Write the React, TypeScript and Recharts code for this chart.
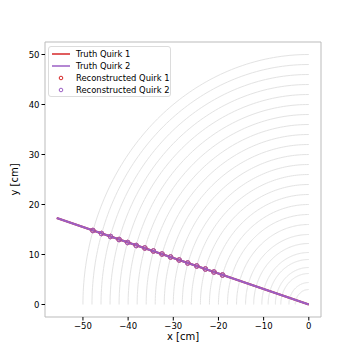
import React from "react";
import { ComposedChart, Scatter, XAxis, YAxis } from "recharts";

// detector layer radii [cm]
const layerRadii = [
  50, 48, 46, 44, 42, 40, 38, 36, 34, 32, 30, 28, 26, 24, 22, 20, 18, 16, 14,
  12.2, 10.4, 9, 7.4, 6.2, 4.4, 3,
];

// truth tracks (start/end points)
const truthQuirk1 = [
  { x: 0, y: 0 },
  { x: -55.8, y: 17.3 },
];
const truthQuirk2 = [
  { x: 0, y: 0 },
  { x: -55.8, y: 17.3 },
];

// reconstructed hits
const recoX = [
  -47.8, -45.9, -43.9, -42.0, -40.1, -38.2, -36.3, -34.4, -32.5, -30.6, -28.7,
  -26.8, -24.8, -22.9, -21.0, -19.1,
];
const recoY1 = [
  14.8, 14.2, 13.6, 13.0, 12.4, 11.8, 11.3, 10.7, 10.1, 9.5, 8.9, 8.3, 7.7,
  7.1, 6.5, 5.9,
];
const recoY2 = [
  14.8, 14.2, 13.6, 13.0, 12.4, 11.8, 11.3, 10.7, 10.1, 9.5, 8.9, 8.3, 7.7,
  7.1, 6.5, 5.9,
];

const xTicks = [-50, -40, -30, -20, -10, 0];
const yTicks = [0, 10, 20, 30, 40, 50];

const RED = "#d62728";
const PURPLE = "#9b5fc4";
const FONT = "DejaVu Sans, sans-serif";

const arcPoints = (r: number) => {
  const pts = [];
  for (let i = 0; i <= 90; i++) {
    const a = (Math.PI / 2) * (1 + i / 90);
    pts.push({ x: r * Math.cos(a), y: r * Math.sin(a) });
  }
  return pts;
};

const reco1 = recoX.map((x, i) => ({ x, y: recoY1[i] }));
const reco2 = recoX.map((x, i) => ({ x, y: recoY2[i] }));

const noShape = () => <g />;

const hollow = (color: string) => (props: any) =>
  (
    <circle
      cx={props.cx}
      cy={props.cy}
      r={2.3}
      fill="none"
      stroke={color}
      strokeWidth={1}
    />
  );

const fmt = (v: number) => String(v).replace("-", "\u2212");

function LegendBox() {
  const row = { display: "flex", alignItems: "center", height: 12 };
  const txt = {
    marginLeft: 6,
    fontSize: 8.4,
    color: "#000",
    whiteSpace: "nowrap" as const,
  };
  return (
    <div
      style={{
        position: "absolute",
        left: 48,
        top: 46,
        width: 123,
        height: 51,
        boxSizing: "border-box",
        border: "1px solid #dcdcdc",
        borderRadius: 3,
        background: "rgba(255,255,255,0.8)",
        padding: "1px 0 0 3px",
        fontFamily: FONT,
      }}
    >
      <div style={row}>
        <svg width={18} height={6}>
          <line x1={0} y1={3} x2={18} y2={3} stroke={RED} strokeWidth={1.5} />
        </svg>
        <span style={txt}>Truth Quirk 1</span>
      </div>
      <div style={row}>
        <svg width={18} height={6}>
          <line x1={0} y1={3} x2={18} y2={3} stroke={PURPLE} strokeWidth={1.5} />
        </svg>
        <span style={txt}>Truth Quirk 2</span>
      </div>
      <div style={row}>
        <svg width={18} height={6}>
          <circle cx={9} cy={3} r={1.8} fill="none" stroke={RED} />
        </svg>
        <span style={txt}>Reconstructed Quirk 1</span>
      </div>
      <div style={row}>
        <svg width={18} height={6}>
          <circle cx={9} cy={3} r={1.8} fill="none" stroke={PURPLE} />
        </svg>
        <span style={txt}>Reconstructed Quirk 2</span>
      </div>
    </div>
  );
}

export default function App() {
  const domainX: [number, number] = [-58.4, 2.7];
  const domainY: [number, number] = [-2.5, 52.5];
  const tickStyle = { fontSize: 8.5, fill: "#000", fontFamily: FONT };
  return (
    <div
      style={{
        position: "absolute",
        left: 0,
        top: 0,
        width: 357,
        height: 357,
        background: "#fff",
      }}
    >
      <ComposedChart
        width={357}
        height={357}
        margin={{ top: 41, right: 35, left: 20, bottom: 5 }}
      >
        <XAxis
          xAxisId="b"
          type="number"
          dataKey="x"
          domain={domainX}
          ticks={xTicks}
          tickFormatter={fmt}
          allowDataOverflow
          stroke="#bbbbbb"
          tick={tickStyle}
          tickLine={{ stroke: "#000" }}
          tickSize={3.5}
          height={35}
          label={{
            value: "x [cm]",
            position: "insideBottom",
            offset: 12,
            style: { fontSize: 10, fill: "#000", fontFamily: FONT },
          }}
        />
        <XAxis
          xAxisId="t"
          orientation="top"
          type="number"
          dataKey="x"
          domain={domainX}
          allowDataOverflow
          stroke="#bbbbbb"
          tick={false}
          tickLine={false}
          height={1}
        />
        <YAxis
          yAxisId="l"
          type="number"
          dataKey="y"
          domain={domainY}
          ticks={yTicks}
          tickFormatter={fmt}
          allowDataOverflow
          stroke="#bbbbbb"
          tick={tickStyle}
          tickLine={{ stroke: "#000" }}
          tickSize={3.5}
          width={25}
          label={{
            value: "y [cm]",
            angle: -90,
            position: "insideLeft",
            offset: -6,
            style: {
              fontSize: 10,
              fill: "#000",
              fontFamily: FONT,
              textAnchor: "middle",
            },
          }}
        />
        <YAxis
          yAxisId="r"
          orientation="right"
          type="number"
          dataKey="y"
          domain={domainY}
          allowDataOverflow
          stroke="#bbbbbb"
          tick={false}
          tickLine={false}
          width={1}
        />
        {layerRadii.map((r) => (
          <Scatter
            key={r}
            xAxisId="b"
            yAxisId="l"
            data={arcPoints(r)}
            line={{ stroke: "#e3e3e3", strokeWidth: 1 }}
            shape={noShape}
            isAnimationActive={false}
          />
        ))}
        <Scatter
          xAxisId="b"
          yAxisId="l"
          data={truthQuirk1}
          line={{ stroke: RED, strokeWidth: 2 }}
          shape={noShape}
          isAnimationActive={false}
        />
        <Scatter
          xAxisId="b"
          yAxisId="l"
          data={truthQuirk2}
          line={{ stroke: PURPLE, strokeWidth: 2 }}
          shape={noShape}
          isAnimationActive={false}
        />
        <Scatter
          xAxisId="b"
          yAxisId="l"
          data={reco1}
          shape={hollow(RED)}
          isAnimationActive={false}
        />
        <Scatter
          xAxisId="b"
          yAxisId="l"
          data={reco2}
          shape={hollow(PURPLE)}
          isAnimationActive={false}
        />
      </ComposedChart>
      <LegendBox />
    </div>
  );
}
